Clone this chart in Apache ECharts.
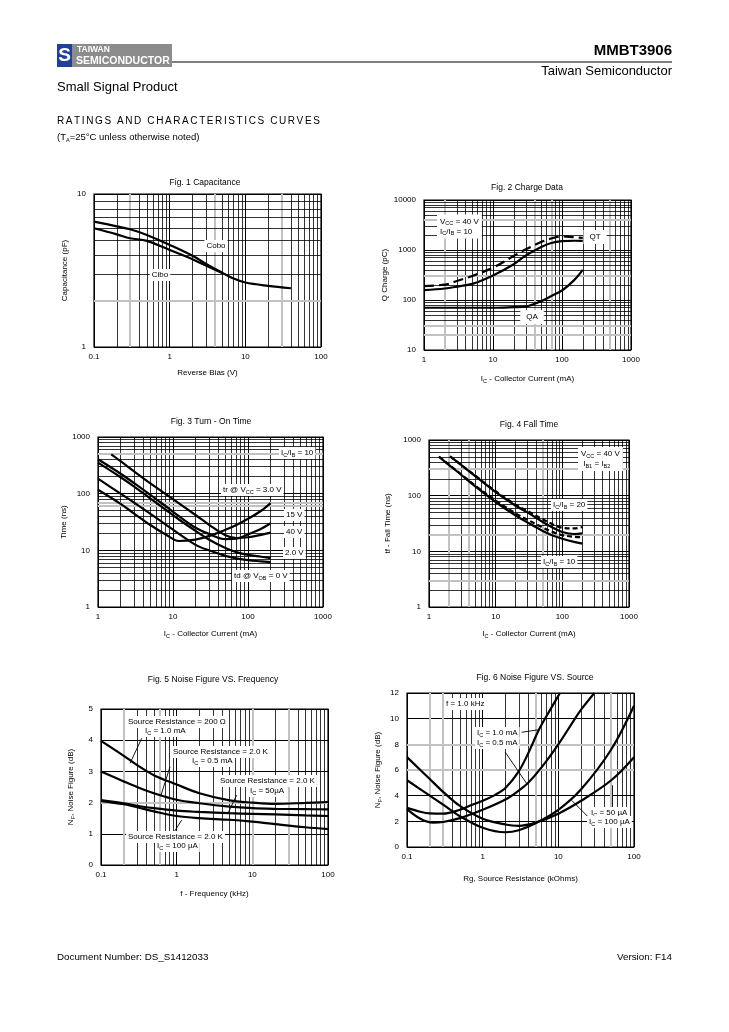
<!DOCTYPE html>
<html><head><meta charset="utf-8">
<script src="https://cdn.jsdelivr.net/npm/echarts@6/dist/echarts.min.js"></script>
<style>html,body{margin:0;padding:0;background:#fff}#c{width:729px;height:1032px}</style>
</head><body><div id="c"></div><script>
// ---------------- DATA ----------------
// Fig 1 Capacitance
const fig1Bias = [0.1, 0.2, 0.3, 0.5, 1, 2, 3, 5, 7, 10, 20, 40];
const fig1Cobo = [6.6, 6.15, 5.88, 5.4, 4.65, 3.95, 3.5, 3.05, 2.8, 2.64, 2.51, 2.42];
const fig1BiasCibo = [0.1, 0.2, 0.3, 0.5, 1, 2, 3, 5];
const fig1Cibo = [5.97, 5.45, 5.14, 4.94, 4.31, 3.75, 3.41, 3.03];
// Fig 2 Charge Data
const fig2Ic = [1, 2, 3, 5, 10, 20, 30, 50, 70, 100, 150, 200];
const fig2QTsolid = [158, 170, 185, 210, 310, 520, 780, 1150, 1380, 1500, 1530, 1520];
const fig2QTdash = [190, 203, 240, 302, 443, 760, 1032, 1445, 1700, 1870, 1800, 1750];
const fig2QA = [70, 70, 70, 70, 70, 72, 74, 95, 120, 155, 250, 400];
// Fig 3 Turn-On Time
const fig3IcA = [1.5, 2, 3, 5, 10, 20, 30, 50, 70, 100, 150, 200];
const fig3Tr40 = [494, 375, 250, 152, 80, 42, 28.5, 18.5, 16.5, 17, 18.8, 20.5];
const fig3Ic = [1, 2, 3, 5, 8, 12, 20, 30, 50, 70, 100, 150, 200];
const fig3Tr15 = [404, 225, 155, 95, 60, 40, 25, 19.5, 15.8, 16, 19, 24, 30];
const fig3Td2 = [352, 195, 135, 82, 52, 35, 22, 15.5, 11, 9.3, 8.3, 7.7, 7.3];
const fig3Td0 = [184, 100, 70, 44, 28.5, 19.5, 12.5, 10, 8, 7.2, 6.7, 6.4, 6.2];
const fig3Tr3 = [117, 66, 45, 28, 19, 14.6, 15.5, 17.8, 23, 28, 36, 50, 68];
// Fig 4 Fall Time
const fig4IcA = [2.07, 3, 5, 10, 20, 30, 50, 70, 100, 150, 200];
const fig4Ib20Solid = [509, 360, 222, 116, 66, 50, 34, 27, 22.2, 20.5, 21];
const fig4Ib20Dash = [509, 362, 226, 120, 69, 53, 38, 31, 26.5, 25.8, 27.4];
const fig4IcB = [1.41, 2, 3, 5, 10, 20, 30, 50, 70, 100, 150, 200];
const fig4Ib10Solid = [500, 355, 240, 145, 77, 44, 33, 23.5, 19.5, 16.8, 14.8, 13.8];
const fig4Ib10Dash = [505, 360, 245, 150, 82, 48, 37, 27, 22.5, 19.5, 18.3, 18];
// Fig 5 Noise Figure vs Frequency
const fig5Freq = [0.1, 0.2, 0.3, 0.5, 1, 2, 5, 10, 20, 50, 100];
const fig5R200 = [3.98, 3.5, 3.2, 2.88, 2.58, 2.3, 2.07, 2.0, 1.96, 1.99, 2.02];
const fig5R2k05m = [3.0, 2.68, 2.5, 2.3, 2.09, 1.98, 1.87, 1.82, 1.8, 1.79, 1.78];
const fig5R2k50u = [2.08, 1.98, 1.9, 1.82, 1.74, 1.7, 1.66, 1.64, 1.62, 1.59, 1.57];
const fig5R2k100u = [2.05, 1.95, 1.85, 1.72, 1.57, 1.5, 1.45, 1.39, 1.31, 1.21, 1.15];
// Fig 6 Noise Figure vs Source
const fig6RgA = [0.1, 0.15, 0.2, 0.3, 0.5, 0.7, 1, 1.5, 2, 3, 4, 5.6, 8, 10.5];
const fig6Ic1m = [3.05, 2.75, 2.62, 2.6, 2.9, 3.25, 3.6, 4.1, 4.6, 5.9, 7.3, 9.2, 10.8, 12];
const fig6RgB = [0.1, 0.15, 0.22, 0.3, 0.5, 1, 2, 3, 4, 6, 10, 15, 20, 30];
const fig6Ic05m = [2.95, 2.2, 1.9, 1.95, 2.25, 2.9, 3.7, 4.4, 5.0, 6.2, 8.0, 9.6, 10.7, 12];
const fig6RgC = [0.1, 0.2, 0.3, 0.5, 1, 2, 3, 5, 10, 20, 50, 100];
const fig6Ic50u = [7.0, 5.3, 4.3, 3.2, 2.2, 1.75, 1.65, 1.9, 2.6, 3.6, 5.2, 7.0];
const fig6Ic100u = [5.2, 4.0, 3.3, 2.4, 1.5, 1.15, 1.3, 1.85, 2.9, 4.5, 7.6, 11.0];

// ---------------- LAYOUT / STYLE ----------------
const FONT = '"Liberation Sans", Arial, Helvetica, sans-serif';
const zip = (xs, ys) => xs.map((x, i) => [x, ys[i]]);
const grids = [
  {left: 94, top: 194, width: 227, height: 153},
  {left: 424, top: 200, width: 207, height: 150},
  {left: 98, top: 437, width: 225, height: 170},
  {left: 429, top: 440, width: 200, height: 167},
  {left: 101, top: 709, width: 227, height: 156},
  {left: 407, top: 693, width: 227, height: 154}
];
const axesCfg = [
  {x: [0.1, 100], y: [1, 10], ylog: true, xName: 'Reverse Bias (V)', yName: 'Capacitance (pF)', xGap: 21, yGap: 24,
   grayX: [0.3, 4, 30], grayY: [2]},
  {x: [1, 1000], y: [10, 10000], ylog: true, xName: 'I{s|C} - Collector Current (mA)', yName: 'Q Charge (pC)', xGap: 24, yGap: 34,
   grayX: [2, 40, 70, 500], grayY: [20, 30, 300, 4000]},
  {x: [1, 1000], y: [1, 1000], ylog: true, xName: 'I{s|C} - Collector Current (mA)', yName: 'Time (ns)', xGap: 22, yGap: 28,
   grayX: [], grayY: [500, 70, 60]},
  {x: [1, 1000], y: [1, 1000], ylog: true, xName: 'I{s|C} - Collector Current (mA)', yName: 'tf - Fall Time (ns)', xGap: 22, yGap: 36,
   grayX: [2, 4, 50], grayY: [300, 20, 3]},
  {x: [0.1, 100], y: [0, 5], ylog: false, yInt: 1, xName: 'f - Frequency (kHz)', yName: 'N{s|F}, Noise Figure (dB)', xGap: 24, yGap: 25,
   grayX: [0.2, 0.6, 10, 30], grayY: [2]},
  {x: [0.1, 100], y: [0, 12], ylog: false, yInt: 2, xName: 'Rg, Source Resistance (kOhms)', yName: 'N{s|F}, Noise Figure (dB)', xGap: 27, yGap: 24,
   grayX: [0.2, 0.3, 5, 50], grayY: [6, 8]}
];
const titles = [
  ['Fig. 1 Capacitance', 205, 183], ['Fig. 2 Charge Data', 527, 188], ['Fig. 3 Turn - On Time', 211, 422],
  ['Fig. 4 Fall Time', 529, 425], ['Fig. 5 Noise Figure VS. Frequency', 213, 680], ['Fig. 6 Noise Figure VS. Source', 535, 678]
];
// leader lines (annotation arrows) in data space
const leaders = {
  4: [[[0.345, 4.06], [0.242, 3.26]], [[0.817, 3.15], [0.621, 2.24]], [[6.2, 2.24], [4.81, 1.68]], [[1.165, 1.44], [0.903, 1.02]]],
  5: [[[3.28, 8.94], [5.71, 9.15]], [[1.98, 7.4], [3.82, 4.94]], [[51.3, 4.81], [51.3, 3.12]], [[14.96, 3.64], [27.4, 2.09]]]
};

const fmt = v => String(+Number(v).toPrecision(6));
const SUBRICH = {s: {fontSize: 5.5, lineHeight: 6, verticalAlign: 'bottom', color: '#000', fontFamily: FONT}};

function minorList(min, max) {
  const out = [];
  for (let e = Math.round(Math.log10(min)); e < Math.round(Math.log10(max)); e++)
    for (let k = 2; k <= 9; k++) out.push(+(k * Math.pow(10, e)).toPrecision(6));
  return out;
}

const xAxis = [], yAxis = [], series = [];
axesCfg.forEach((c, i) => {
  xAxis.push({
    type: 'log', logBase: 10, gridIndex: i, min: c.x[0], max: c.x[1],
    axisLine: {show: false}, axisTick: {show: false},
    axisLabel: {fontSize: 8, color: '#000', fontFamily: FONT, margin: 6, formatter: fmt},
    splitLine: {show: true, lineStyle: {color: '#000', width: 1}},
    name: c.xName, nameLocation: 'middle', nameGap: c.xGap,
    nameTextStyle: {fontSize: 8, color: '#000', fontFamily: FONT, lineHeight: 10, rich: SUBRICH}
  });
  yAxis.push({
    type: c.ylog ? 'log' : 'value', logBase: 10, gridIndex: i, min: c.y[0], max: c.y[1], interval: c.ylog ? undefined : c.yInt,
    axisLine: {show: false}, axisTick: {show: false},
    axisLabel: {fontSize: 8, color: '#000', fontFamily: FONT, margin: 8, formatter: fmt},
    splitLine: {show: true, lineStyle: {color: '#000', width: 1}},
    name: c.yName, nameLocation: 'middle', nameGap: c.yGap,
    nameTextStyle: {fontSize: 8, color: '#000', fontFamily: FONT, lineHeight: 10, rich: SUBRICH}
  });
  const gl = [];
  const minorsX = minorList(c.x[0], c.x[1]);
  const grayX = new Set(c.grayX.map(v => +v.toPrecision(6)));
  const grayY = new Set(c.grayY.map(v => +v.toPrecision(6)));
  const black = {color: '#000', width: 0.8, type: 'solid'};
  const gray = {color: '#c2c2c2', width: 2, type: 'solid'};
  minorsX.forEach(v => gl.push({xAxis: v, lineStyle: grayX.has(v) ? gray : black}));
  c.grayX.forEach(v => { if (!minorsX.includes(v)) gl.push({xAxis: v, lineStyle: gray}); });
  if (c.ylog) {
    minorList(c.y[0], c.y[1]).forEach(v => gl.push({yAxis: v, lineStyle: grayY.has(v) ? gray : black}));
  } else {
    c.grayY.forEach(v => gl.push({yAxis: v, lineStyle: gray}));
  }
  series.push({
    type: 'line', xAxisIndex: i, yAxisIndex: i, data: [], silent: true, z: 1, animation: false,
    markLine: {silent: true, z: 1, symbol: ['none', 'none'], label: {show: false}, animation: false,
      emphasis: {disabled: true}, data: gl}
  });
  if (leaders[i]) {
    series.push({
      type: 'line', xAxisIndex: i, yAxisIndex: i, data: [], silent: true, z: 6, animation: false,
      markLine: {silent: true, z: 6, symbol: ['none', 'none'], label: {show: false}, animation: false,
        emphasis: {disabled: true}, lineStyle: {color: '#000', width: 0.9, type: 'solid'},
        data: leaders[i].map(p => [{coord: p[0]}, {coord: p[1]}])}
    });
  }
});

function curve(i, xs, ys, dash) {
  series.push({
    type: 'line', xAxisIndex: i, yAxisIndex: i, data: zip(xs, ys), showSymbol: false, symbol: 'none',
    smooth: 0.35, z: 3, animation: false, silent: true,
    lineStyle: {color: '#000', width: 2.2, type: dash || 'solid', cap: 'butt'}
  });
}
curve(0, fig1Bias, fig1Cobo);
curve(0, fig1BiasCibo, fig1Cibo);
curve(1, fig2Ic, fig2QTsolid);
curve(1, fig2Ic, fig2QTdash, [10, 5]);
curve(1, fig2Ic, fig2QA);
curve(2, fig3IcA, fig3Tr40);
curve(2, fig3Ic, fig3Tr15);
curve(2, fig3Ic, fig3Td2);
curve(2, fig3Ic, fig3Td0);
curve(2, fig3Ic, fig3Tr3);
curve(3, fig4IcA, fig4Ib20Solid);
curve(3, fig4IcA, fig4Ib20Dash, [5, 3]);
curve(3, fig4IcB, fig4Ib10Solid);
curve(3, fig4IcB, fig4Ib10Dash, [5, 3]);
curve(4, fig5Freq, fig5R200);
curve(4, fig5Freq, fig5R2k05m);
curve(4, fig5Freq, fig5R2k50u);
curve(4, fig5Freq, fig5R2k100u);
curve(5, fig6RgA, fig6Ic1m);
curve(5, fig6RgB, fig6Ic05m);
curve(5, fig6RgC, fig6Ic50u);
curve(5, fig6RgC, fig6Ic100u);

// ---------------- TEXT / GRAPHICS ----------------
const GRICH = {s: {fontSize: 5.5, lineHeight: 6, verticalAlign: 'bottom', fill: '#000', fontFamily: FONT}};
function txt(x, y, text, o = {}) {
  return {type: 'text', x, y, z: o.z || 50, silent: true,
    style: {text, fontFamily: FONT, fontSize: o.size || 8, fontWeight: o.bold ? 'bold' : 'normal',
      fill: o.color || '#000', align: o.align || 'left', verticalAlign: o.va || 'middle',
      backgroundColor: o.bg, padding: o.pad, lineHeight: o.lh || Math.round((o.size || 8) * 1.25), rich: GRICH}};
}
function spaced(x, y, text, size, gap) {
  const ctx = document.createElement('canvas').getContext('2d');
  ctx.font = size + 'px ' + FONT;
  const out = [];
  let cx = x;
  for (const ch of text) {
    if (ch !== ' ') out.push(txt(cx, y, ch, {size}));
    cx += ctx.measureText(ch).width + gap;
  }
  return out;
}
const WB = {bg: '#fff', pad: [1, 2, 1, 2]};
const graphic = [
  {type: 'rect', shape: {x: 57, y: 44, width: 15, height: 23}, style: {fill: '#20409a'}, silent: true},
  txt(64.5, 56, 'S', {size: 19, bold: true, color: '#fff', align: 'center'}),
  {type: 'rect', shape: {x: 72, y: 44, width: 100, height: 23}, style: {fill: '#8c8c8c'}, silent: true},
  txt(77, 50, 'TAIWAN', {size: 8.5, bold: true, color: '#fff'}),
  txt(76, 61, 'SEMICONDUCTOR', {size: 10.5, bold: true, color: '#fff'}),
  {type: 'line', shape: {x1: 172, y1: 62, x2: 672, y2: 62}, style: {stroke: '#000', lineWidth: 1.2}, silent: true},
  txt(672, 51, 'MMBT3906', {size: 15, bold: true, align: 'right'}),
  txt(672, 71, 'Taiwan Semiconductor', {size: 13, align: 'right'}),
  txt(57, 87, 'Small Signal Product', {size: 13}),
  ...spaced(57, 121, 'RATINGS AND CHARACTERISTICS CURVES', 10, 1.6),
  txt(57, 137, '(T{s|A}=25°C unless otherwise noted)', {size: 9.5}),
  txt(57, 957, 'Document Number: DS_S1412033', {size: 9.8}),
  txt(672, 957, 'Version: F14', {size: 9.8, align: 'right'}),
  txt(216, 246, 'Cobo', Object.assign({align: 'center'}, WB)),
  txt(160, 275, 'Cibo', Object.assign({align: 'center'}, WB)),
  txt(437, 226.5, 'V{s|CC} = 40 V\nI{s|C}/I{s|B} = 10', Object.assign({}, WB, {pad: [2, 3, 2, 3]})),
  txt(595, 237, 'QT', Object.assign({align: 'center'}, WB, {pad: [2, 6, 2, 6]})),
  txt(532, 317, 'QA', Object.assign({align: 'center'}, WB, {pad: [2, 6, 2, 6]})),
  txt(279, 453, 'I{s|C}/I{s|B} = 10', WB),
  txt(221, 490, 'tr @ V{s|CC} = 3.0 V', WB),
  txt(284, 515, '15 V', WB),
  txt(284, 532, '40 V', WB),
  txt(283, 553, '2.0 V', WB),
  txt(232, 576, 'td @ V{s|OB} = 0 V', WB),
  txt(578, 459, 'V{s|CC} = 40 V\n I{s|B1} = I{s|B2}', Object.assign({}, WB, {pad: [2, 3, 2, 3]})),
  txt(551, 505, 'I{s|C}/I{s|B} = 20', WB),
  txt(541, 562, 'I{s|C}/I{s|B} = 10', WB),
  txt(126, 722, 'Source Resistance = 200 Ω', WB),
  txt(143, 731, 'I{s|C} = 1.0 mA', WB),
  txt(171, 752, 'Source Resistance = 2.0 K', WB),
  txt(190, 761, 'I{s|C} = 0.5 mA', WB),
  txt(218, 781, 'Source Resistance = 2.0 K', WB),
  txt(248, 791, 'I{s|C} = 50µA', WB),
  txt(126, 837, 'Source Resistance = 2.0 K', WB),
  txt(155, 846, 'I{s|C} = 100 µA', WB),
  txt(444, 704, 'f = 1.0 kHz', WB),
  txt(475, 733, 'I{s|C} = 1.0 mA', WB),
  txt(475, 743, 'I{s|C} = 0.5 mA', WB),
  txt(589, 813, 'I{s|C} = 50 µA', WB),
  txt(587, 822, 'I{s|C} = 100 µA', WB)
];
titles.forEach(t => graphic.push(txt(t[1], t[2], t[0], {size: 8.5, align: 'center'})));

const chart = echarts.init(document.getElementById('c'), null, {renderer: 'canvas', width: 729, height: 1032});
chart.setOption({
  backgroundColor: '#fff',
  animation: false,
  textStyle: {fontFamily: FONT},
  grid: grids.map(g => Object.assign({show: true, borderColor: '#000', borderWidth: 1.2, backgroundColor: 'transparent', containLabel: false}, g)),
  xAxis, yAxis, series, graphic
});
</script></body></html>
